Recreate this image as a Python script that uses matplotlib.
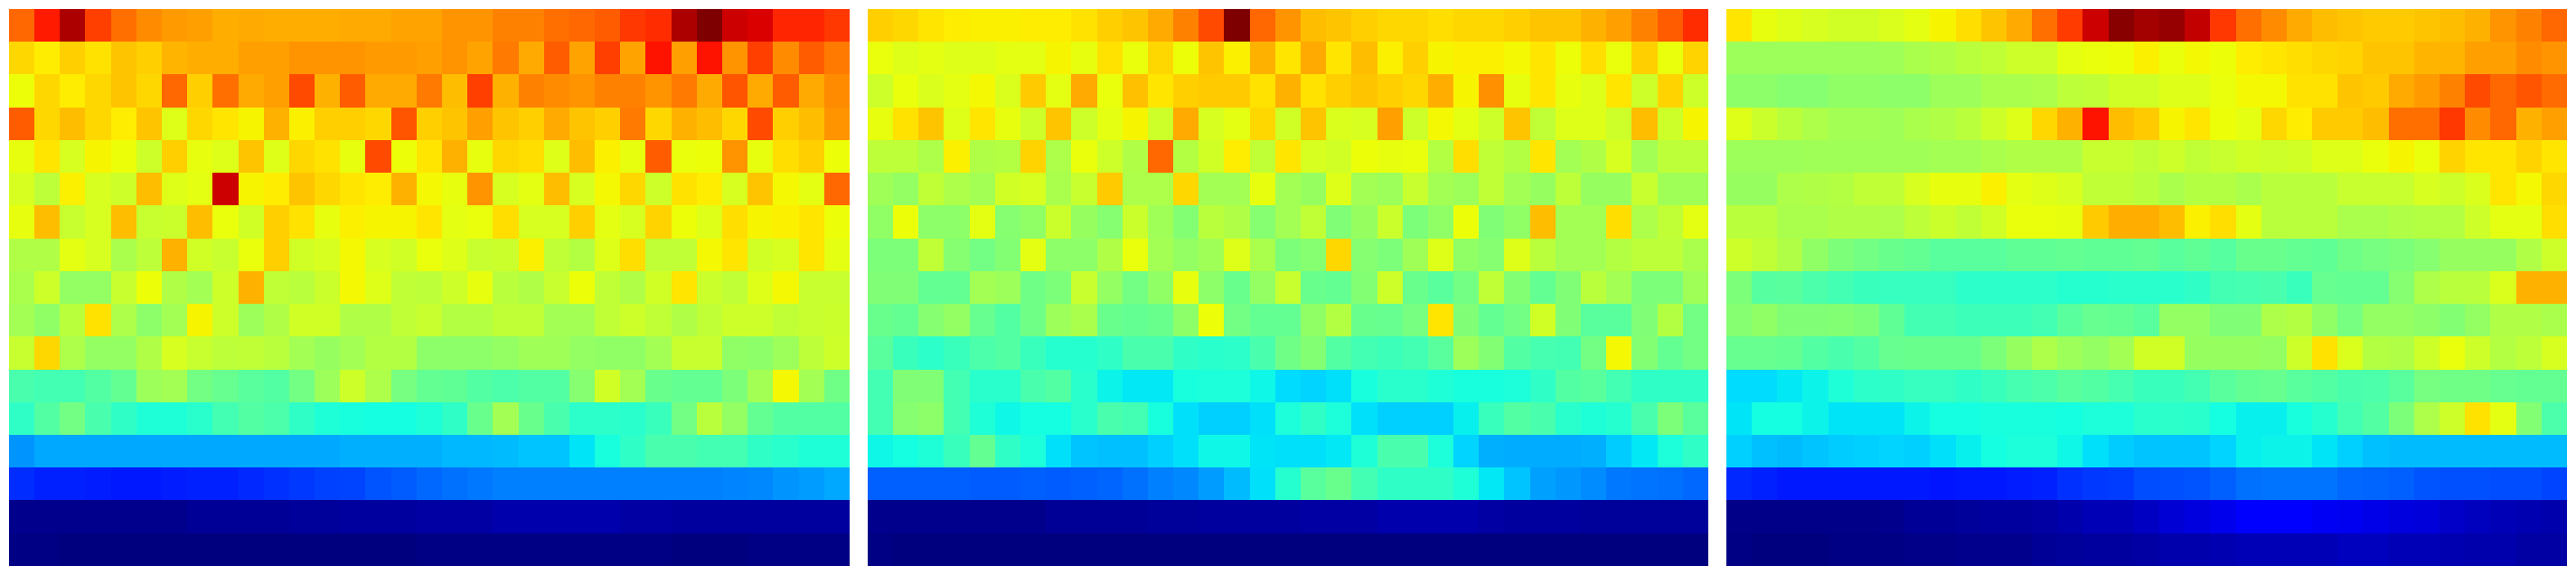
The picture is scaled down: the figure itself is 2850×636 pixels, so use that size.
import numpy as np
import matplotlib
matplotlib.use("Agg")
import matplotlib.pyplot as plt

panel_a = [
[.80,.88,.96,.84,.79,.76,.745,.74,.725,.73,.725,.725,.725,.73,.73,.735,.735,.75,.75,.77,.77,.79,.80,.81,.85,.86,.96,1.0,.93,.92,.87,.87,.85],
[.68,.66,.69,.67,.70,.69,.715,.725,.725,.74,.74,.75,.75,.75,.745,.745,.74,.75,.735,.78,.73,.81,.735,.84,.735,.89,.74,.89,.75,.84,.76,.81,.78],
[.64,.68,.66,.68,.70,.68,.80,.69,.79,.73,.74,.83,.72,.81,.73,.73,.78,.71,.84,.72,.77,.76,.75,.77,.77,.75,.78,.73,.82,.73,.81,.73,.76],
[.81,.68,.71,.68,.66,.70,.62,.68,.665,.65,.72,.655,.69,.69,.68,.82,.69,.70,.74,.70,.69,.73,.70,.69,.78,.68,.72,.71,.68,.83,.69,.71,.75],
[.63,.665,.61,.65,.64,.60,.69,.63,.62,.70,.62,.68,.67,.63,.83,.64,.665,.72,.63,.68,.675,.62,.71,.655,.63,.81,.635,.64,.75,.63,.675,.69,.64],
[.61,.58,.655,.61,.60,.71,.62,.625,.93,.65,.66,.70,.68,.665,.66,.72,.645,.63,.75,.61,.625,.71,.61,.645,.68,.60,.67,.66,.61,.70,.645,.625,.80],
[.63,.71,.59,.61,.71,.59,.595,.71,.635,.605,.69,.67,.63,.655,.65,.65,.665,.625,.635,.675,.61,.61,.69,.625,.61,.685,.64,.62,.675,.65,.655,.665,.64],
[.565,.565,.625,.61,.555,.58,.72,.605,.59,.635,.69,.605,.61,.645,.61,.605,.635,.62,.59,.595,.655,.585,.57,.62,.675,.585,.585,.645,.665,.605,.61,.665,.625],
[.555,.60,.53,.53,.59,.64,.565,.55,.60,.72,.585,.575,.595,.645,.62,.585,.58,.60,.63,.575,.565,.59,.64,.585,.565,.605,.665,.595,.585,.62,.645,.59,.59],
[.55,.525,.575,.67,.56,.52,.55,.65,.60,.54,.565,.605,.605,.565,.565,.585,.59,.57,.57,.585,.585,.55,.55,.585,.60,.585,.565,.585,.60,.60,.585,.59,.595],
[.59,.68,.56,.53,.53,.565,.61,.59,.58,.585,.575,.55,.535,.55,.57,.57,.52,.52,.52,.53,.545,.545,.53,.525,.525,.55,.59,.59,.525,.52,.54,.58,.60],
[.44,.43,.43,.45,.47,.54,.55,.49,.475,.46,.45,.49,.54,.60,.56,.495,.47,.465,.45,.445,.45,.45,.515,.605,.55,.48,.47,.47,.50,.55,.645,.55,.485],
[.41,.45,.49,.44,.41,.39,.39,.40,.43,.45,.445,.41,.39,.38,.375,.375,.39,.41,.48,.55,.48,.44,.405,.405,.40,.42,.49,.575,.53,.47,.45,.45,.45],
[.27,.29,.29,.29,.29,.29,.29,.29,.29,.29,.29,.29,.29,.30,.30,.30,.30,.305,.305,.31,.32,.32,.35,.38,.41,.44,.44,.43,.43,.41,.40,.39,.39],
[.17,.16,.16,.155,.15,.15,.155,.16,.16,.165,.175,.18,.19,.195,.21,.215,.23,.235,.245,.25,.25,.25,.25,.25,.25,.25,.25,.25,.255,.26,.27,.28,.29],
[.015,.015,.015,.015,.015,.015,.015,.02,.02,.02,.02,.025,.025,.03,.03,.03,.035,.035,.035,.04,.04,.04,.04,.04,.035,.035,.03,.03,.03,.03,.03,.03,.03],
[.005,.004,.003,.002,.002,.002,.002,.002,.003,.003,.003,.002,.002,.001,.001,.002,.004,.004,.005,.005,.006,.006,.006,.006,.005,.004,.003,.003,.003,.004,.004,.005,.006],
]

panel_b = [
[.69,.68,.665,.66,.655,.655,.66,.66,.67,.69,.70,.73,.77,.83,1.0,.80,.75,.71,.70,.69,.68,.68,.675,.68,.68,.69,.70,.70,.72,.74,.77,.81,.86],
[.635,.62,.625,.62,.62,.625,.625,.65,.63,.67,.635,.68,.64,.70,.655,.72,.665,.73,.665,.71,.655,.69,.65,.655,.655,.645,.665,.64,.675,.635,.69,.635,.685],
[.60,.635,.615,.625,.645,.615,.695,.625,.73,.635,.705,.665,.69,.695,.695,.67,.72,.67,.69,.70,.69,.68,.725,.65,.755,.63,.665,.63,.62,.665,.60,.685,.60],
[.63,.67,.70,.62,.665,.63,.60,.70,.60,.625,.65,.60,.73,.61,.625,.68,.605,.70,.615,.61,.74,.60,.645,.625,.60,.70,.585,.62,.62,.60,.71,.60,.65],
[.58,.58,.56,.655,.565,.57,.685,.56,.635,.60,.565,.80,.57,.605,.66,.585,.665,.61,.605,.64,.63,.635,.57,.675,.585,.57,.665,.55,.565,.61,.55,.58,.58],
[.545,.53,.585,.56,.55,.605,.61,.555,.59,.695,.56,.56,.68,.55,.55,.63,.55,.535,.62,.55,.54,.59,.55,.54,.585,.55,.535,.58,.535,.535,.59,.545,.545],
[.525,.64,.52,.52,.625,.515,.525,.595,.535,.515,.595,.545,.51,.575,.565,.515,.55,.585,.505,.535,.595,.50,.525,.64,.505,.525,.71,.55,.55,.675,.56,.585,.625],
[.50,.50,.585,.515,.49,.51,.625,.52,.52,.565,.635,.55,.53,.545,.62,.555,.50,.515,.68,.515,.50,.545,.62,.525,.515,.62,.575,.55,.55,.57,.58,.58,.555],
[.505,.505,.47,.47,.55,.54,.485,.50,.59,.53,.49,.525,.63,.52,.48,.53,.59,.48,.47,.51,.60,.48,.46,.49,.585,.51,.47,.505,.575,.55,.50,.50,.545],
[.48,.47,.515,.53,.475,.45,.485,.54,.555,.48,.47,.48,.52,.64,.49,.47,.47,.525,.57,.48,.475,.495,.665,.505,.47,.49,.605,.505,.46,.46,.505,.57,.49],
[.46,.42,.405,.42,.445,.45,.42,.395,.395,.41,.44,.44,.41,.40,.405,.44,.485,.51,.45,.43,.425,.43,.46,.54,.51,.45,.435,.43,.49,.645,.51,.47,.49],
[.43,.505,.505,.43,.40,.40,.44,.45,.40,.365,.355,.355,.38,.385,.385,.37,.34,.335,.345,.38,.40,.40,.39,.38,.38,.385,.41,.45,.46,.43,.41,.41,.41],
[.43,.515,.52,.43,.39,.37,.375,.375,.40,.44,.43,.38,.345,.33,.33,.345,.385,.41,.385,.345,.33,.33,.33,.36,.42,.45,.44,.40,.39,.395,.44,.50,.46],
[.37,.375,.39,.42,.47,.41,.385,.345,.32,.315,.315,.33,.345,.37,.37,.35,.345,.345,.355,.39,.44,.44,.385,.335,.30,.295,.295,.295,.30,.325,.355,.385,.41],
[.22,.22,.22,.22,.215,.215,.22,.215,.22,.225,.235,.25,.26,.28,.31,.345,.395,.46,.48,.43,.41,.41,.41,.39,.355,.32,.285,.275,.265,.245,.24,.235,.23],
[.015,.015,.015,.015,.015,.015,.015,.02,.02,.02,.02,.025,.025,.03,.03,.03,.03,.035,.035,.035,.04,.04,.04,.04,.035,.03,.03,.03,.025,.025,.025,.025,.025],
[.004,.003,.002,.002,.002,.002,.002,.002,.002,.002,.002,.001,.001,.001,.001,.001,.002,.002,.002,.003,.003,.003,.003,.003,.003,.002,.001,.001,.001,.002,.002,.003,.003],
]

panel_c = [
[.665,.63,.62,.61,.605,.605,.615,.625,.65,.675,.70,.73,.79,.845,.93,.99,.965,.98,.94,.85,.79,.76,.73,.71,.70,.695,.695,.70,.71,.72,.75,.77,.80],
[.54,.54,.54,.54,.54,.54,.545,.555,.565,.575,.585,.60,.60,.625,.635,.64,.655,.635,.645,.64,.66,.665,.675,.68,.685,.70,.70,.715,.715,.74,.74,.76,.75],
[.52,.52,.515,.515,.525,.525,.52,.52,.54,.54,.555,.555,.56,.58,.585,.605,.605,.62,.62,.635,.645,.645,.67,.67,.70,.695,.73,.745,.77,.83,.80,.82,.795],
[.62,.595,.575,.56,.55,.55,.545,.555,.565,.575,.60,.62,.68,.72,.89,.71,.695,.65,.665,.64,.625,.68,.66,.695,.695,.71,.79,.79,.85,.76,.80,.72,.74],
[.54,.54,.54,.545,.545,.545,.545,.545,.55,.55,.555,.565,.565,.565,.59,.59,.585,.60,.585,.59,.605,.60,.605,.62,.62,.635,.65,.635,.685,.665,.665,.685,.665],
[.535,.535,.56,.565,.57,.585,.585,.61,.63,.63,.655,.625,.62,.61,.585,.585,.575,.555,.57,.57,.555,.575,.575,.575,.59,.59,.59,.61,.60,.615,.665,.645,.68],
[.575,.575,.555,.555,.565,.565,.56,.58,.595,.585,.605,.635,.635,.63,.695,.725,.725,.71,.655,.675,.625,.575,.575,.575,.555,.555,.565,.57,.57,.60,.625,.625,.675],
[.60,.585,.565,.525,.50,.49,.48,.47,.46,.46,.46,.465,.465,.47,.465,.465,.47,.46,.465,.455,.48,.48,.47,.465,.485,.495,.50,.515,.535,.535,.535,.565,.60],
[.50,.455,.46,.445,.43,.42,.415,.415,.415,.405,.405,.405,.405,.395,.395,.40,.40,.40,.41,.43,.435,.44,.42,.475,.47,.47,.515,.56,.575,.575,.615,.72,.72],
[.515,.525,.505,.505,.51,.50,.465,.43,.43,.425,.425,.425,.43,.46,.475,.47,.46,.53,.53,.505,.505,.56,.57,.525,.495,.53,.53,.52,.51,.53,.565,.565,.555],
[.475,.475,.47,.45,.44,.45,.475,.48,.48,.48,.50,.535,.56,.54,.53,.55,.605,.605,.535,.535,.535,.53,.60,.67,.615,.57,.565,.60,.635,.60,.57,.58,.61],
[.34,.34,.355,.365,.39,.405,.41,.415,.415,.41,.42,.435,.445,.46,.45,.435,.42,.42,.43,.46,.47,.475,.46,.45,.44,.445,.46,.495,.485,.485,.475,.47,.47],
[.35,.375,.375,.365,.35,.35,.35,.365,.375,.375,.38,.38,.38,.375,.385,.385,.40,.405,.40,.375,.36,.36,.38,.395,.43,.45,.50,.56,.60,.67,.625,.51,.445],
[.33,.315,.31,.32,.325,.33,.335,.33,.345,.36,.375,.385,.385,.37,.345,.325,.32,.32,.32,.335,.36,.365,.365,.35,.33,.315,.31,.31,.31,.31,.31,.31,.31],
[.165,.16,.15,.15,.15,.15,.15,.15,.145,.15,.15,.155,.16,.175,.18,.185,.20,.205,.21,.22,.235,.24,.24,.24,.23,.225,.22,.21,.205,.205,.20,.20,.195],
[.01,.01,.01,.01,.01,.01,.015,.02,.02,.025,.03,.03,.035,.04,.05,.05,.06,.075,.085,.095,.11,.11,.11,.105,.10,.09,.085,.08,.065,.055,.05,.045,.04],
[.005,.0,.0,.0,.005,.005,.005,.01,.01,.015,.015,.015,.02,.025,.03,.03,.035,.04,.04,.045,.05,.05,.05,.05,.055,.055,.05,.05,.045,.04,.04,.035,.035],
]

panels = [panel_a, panel_b, panel_c]
W, H = 2850, 636
lefts = [10.3, 960.3, 1910.3]
pw, ph, top = 929.4, 616, 10

fig = plt.figure(figsize=(W / 100, H / 100), dpi=100, facecolor="white")
for left, p in zip(lefts, panels):
    ax = fig.add_axes([left / W, 1 - (top + ph) / H, pw / W, ph / H])
    ax.imshow(np.array(p, dtype=float), cmap="jet", vmin=0, vmax=1, aspect="auto",
              interpolation="nearest")
    ax.axis("off")
fig.savefig("out.png", dpi=100, facecolor="white")
